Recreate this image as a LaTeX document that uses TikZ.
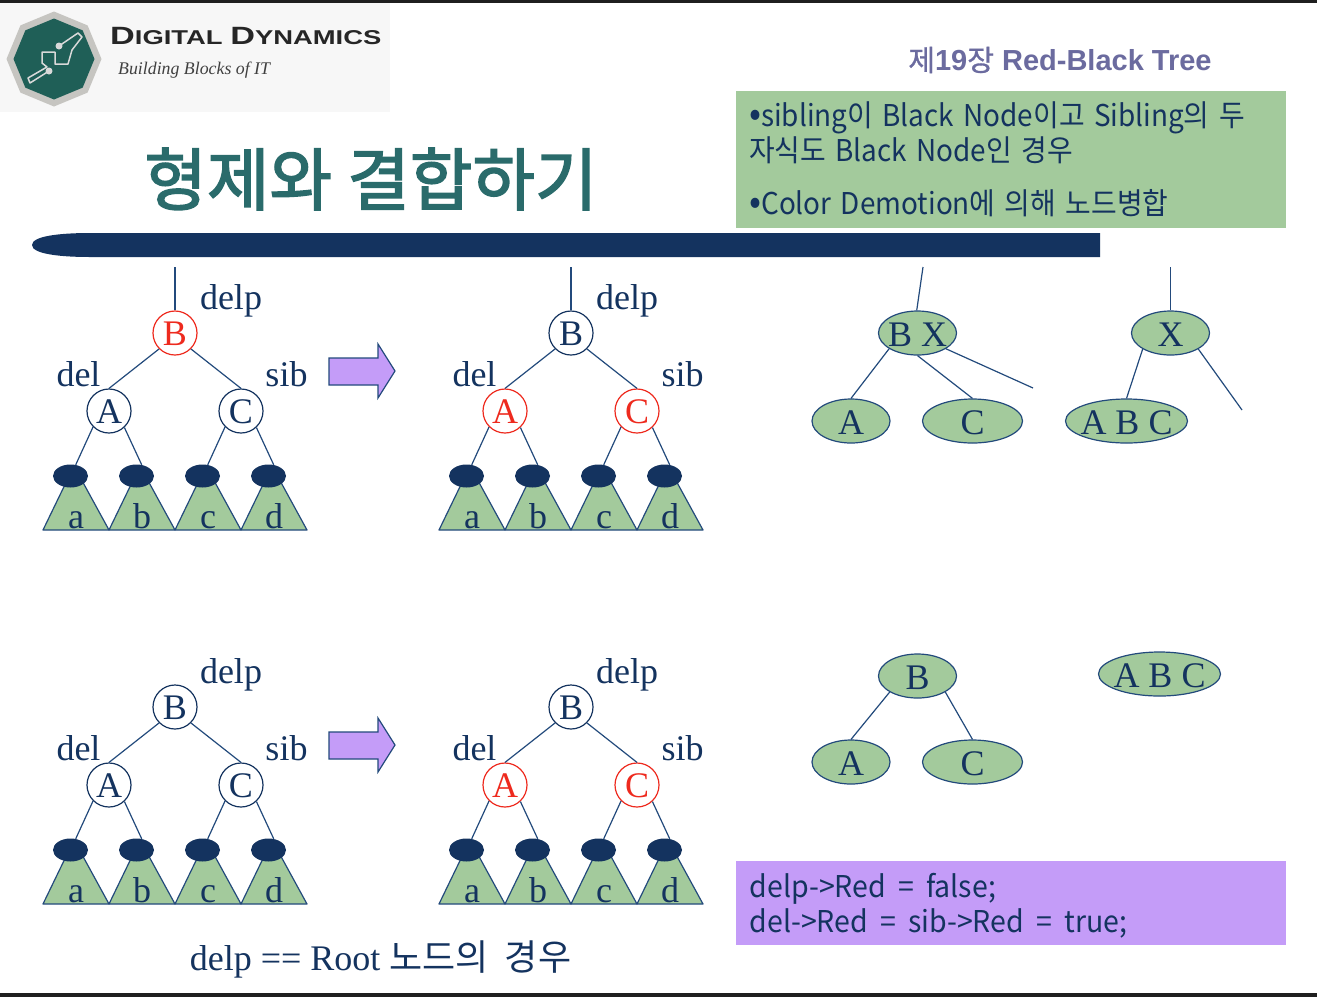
\documentclass[tikz,border=0pt]{standalone}
\usepackage{fontspec}
\usetikzlibrary{calc, shapes.geometric}
\setmainfont{Liberation Serif}
\setsansfont{Liberation Sans}
\newfontfamily\krfont{Noto Sans CJK KR}
\newfontfamily\krheavy[FakeBold=1]{Noto Sans CJK KR}
\newfontfamily\krtitle[FakeBold=2.2]{Noto Sans CJK KR}
\newfontfamily\krbody[FakeStretch=0.93,WordSpace=1.5]{Noto Sans CJK KR}
\newfontfamily\krcode[FakeStretch=0.95,WordSpace=1.9]{Noto Sans CJK KR}
\newfontfamily\logofont[FakeStretch=1.37]{Liberation Sans}
\definecolor{navy}{HTML}{14335F}
\definecolor{edgeblue}{HTML}{234A7C}
\definecolor{leaf}{HTML}{A3CA9C}
\definecolor{lilac}{HTML}{C49CF8}
\definecolor{rednode}{HTML}{EE2A1E}
\definecolor{teal}{HTML}{2A6B6B}
\definecolor{chapter}{HTML}{6B6B9F}
\definecolor{silver}{HTML}{C6C5C1}
\definecolor{badge}{HTML}{1F5F57}
\newcommand{\fs}[1]{\fontsize{#1}{#1}\selectfont}
\newcommand{\blt}{{\fs{38}•}}
\tikzset{
  tnode/.style={circle, draw=#1, text=#1, fill=white, line width=1.2pt, minimum size=44, inner sep=0, text height=25pt, text depth=0pt, font=\fs{36}},
  tlabel/.style={anchor=base, text=navy, font=\fs{36}},
  sublabel/.style={anchor=base, text=navy, font=\fs{36}},
  stub/.style={ellipse, fill=navy, minimum width=35, minimum height=23, inner sep=0},
  wedge/.style={draw=edgeblue, fill=leaf, line width=1.2pt, line join=round},
  link/.style={draw=edgeblue, line width=1.2pt},
  merged/.style={ellipse, draw=edgeblue, fill=leaf, line width=1.2pt, text=navy, inner xsep=-20pt, inner ysep=-10pt, minimum height=44, text height=27pt, text depth=0pt, font=\fs{36}},
  bodytext/.style={anchor=base west, inner sep=0, text=navy, font=\krbody\fs{30}},
  codetext/.style={anchor=base west, inner sep=0, text=navy, font=\krcode\fs{30}},
}
% x offset, y offset, prefix, root colour, child colour
\newcommand{\delptree}[5]{
  \begin{scope}[shift={(#1,#2)}]
    \foreach \n/\i in {a/0,b/1,c/2,d/3}{
      \draw[wedge] ({43+66*\i},530) -- ({74+66*\i},466) -- ({109+66*\i},530) -- cycle;
      \node[sublabel] at ({76+66*\i},528) {\n};
      \node[stub] (#3\n) at ({70.5+66*\i},476) {};
    }
    \node[tnode=#4] (#3B) at (175,333) {B};
    \node[tnode=#5] (#3A) at (109,411) {A};
    \node[tnode=#5] (#3C) at (241,411) {C};
    \draw[link] (#3B.-135) -- (#3A.north);
    \draw[link] (#3B.-45) -- (#3C.north);
    \draw[link] (#3A.-135) -- (#3a.65);
    \draw[link] (#3A.-47) -- (#3b.65);
    \draw[link] (#3C.-135) -- (#3c.65);
    \draw[link] (#3C.-47) -- (#3d.65);
    \node[tlabel] (#3delp) at (231,309) {delp};
    \node[tlabel] (#3del) at (78.5,386) {del};
    \node[tlabel] (#3sib) at (286.5,386) {sib};
  \end{scope}
}
\begin{document}
\begin{tikzpicture}[x=1pt, y=-1pt]
  \useasboundingbox[fill=white] (0,0) rectangle (1317,997);
  \fill[black!88] (0,0) rectangle (1317,3);
  \fill[black!88] (0,993) rectangle (1317,997);
  % logo
  \fill[black!3] (0,3) rectangle (390,112);
  \fill[silver] (54,59) ++(90:47.5) \foreach \a in {135,180,...,405}{ -- ($(54,59)+(\a:47.5)$) } -- cycle;
  \fill[badge] (54,59) ++(90:40.5) \foreach \a in {135,180,...,405}{ -- ($(54,59)+(\a:40.5)$) } -- cycle;
  \draw[black!15, line width=1.5pt, line join=round] (59,46) -- (78,33) -- (82,37) -- (72,50) -- (68,64) -- (55,64) -- (55,52) -- (42,52) -- (42,63) -- (47,67) -- (28,78) -- (30,83) -- (49,71);
  \fill[black!15] (49,71) circle (3.5) (59,46) circle (3.5);
  \node[anchor=base west, inner sep=0, font=\logofont\bfseries\fs{25}, text=black!85] (logoname) at (110,44) {D\fs{20}IGITAL \fs{25}D\fs{20}YNAMICS};
  \node[anchor=base west, inner sep=0, font=\rmfamily\itshape\fs{17.8}, text=black!75] (logotag) at (118,74) {Building Blocks of IT};
  % heading
  \node[text=teal, font=\krtitle\fs{68}] (title) at (371,179) {형제와 결합하기};
  \node[text=chapter, font=\sffamily\bfseries\fs{29}] (chapter) at (1060,60) {{\krheavy\mdseries 제}19{\krheavy\mdseries 장} Red-Black Tree};
  \fill[navy] (1100,233) -- (90,233) .. controls (60,233) and (32,236) .. (32,245) .. controls (32,254) and (60,257) .. (90,257) -- (1100,257) -- cycle;
  \fill[leaf] (736,91) rectangle (1286,228);
  \node[bodytext] (note1) at (749,126) {\blt sibling이 Black Node이고 Sibling의 두};
  \node[bodytext] (note2) at (749,161) {자식도 Black Node인 경우};
  \node[bodytext] (note3) at (749,214) {\blt Color Demotion에 의해 노드병합};
  % 2-3-4 trees
  \delptree{0}{0}{p}{rednode}{navy}
  \delptree{396}{0}{q}{navy}{rednode}
  \delptree{0}{374}{r}{navy}{navy}
  \delptree{396}{374}{s}{navy}{rednode}
  \coordinate (ptop) at (175,267);
  \coordinate (qtop) at (571,267);
  \draw[link] (ptop) -- (pB);
  \draw[link] (qtop) -- (qB);
  \foreach \y in {0,374}{
    \draw[edgeblue, fill=lilac, line width=1.2pt, line join=miter] (329,358+\y) -- (378,358+\y) -- (378,344+\y) -- (395,371+\y) -- (378,398+\y) -- (378,385+\y) -- (329,385+\y) -- cycle;
  }
  % merged nodes, top
  \node[merged, minimum width=78] (bx) at (917.5,333) {B X};
  \node[merged, minimum width=78] (ua) at (851,421) {A};
  \node[merged, minimum width=100] (uc) at (972.5,421) {C};
  \node[merged, minimum width=78] (x) at (1170.5,333) {X};
  \node[merged, minimum width=122] (uabc) at (1126.5,421) {A B C};
  \coordinate (bxtop) at (923,267);
  \coordinate (bxfree) at (1033,388);
  \coordinate (xtop) at (1170.5,267);
  \coordinate (xfree) at (1242,410);
  \draw[link] (bxtop) -- (bx.92);
  \draw[link] (bx.-151) -- (ua.north);
  \draw[link] (bx.south) -- (uc.north);
  \draw[link] (bx.-29) -- (bxfree);
  \draw[link] (xtop) -- (x.north);
  \draw[link] (x.-150) -- (uabc.north);
  \draw[link] (x.-30) -- (xfree);
  % merged nodes, bottom
  \node[merged, minimum width=78] (lb) at (917.5,676) {B};
  \node[merged, minimum width=78] (la) at (851,762) {A};
  \node[merged, minimum width=100] (lc) at (972.5,762) {C};
  \node[merged, minimum width=122] (labc) at (1159.5,674) {A B C};
  \draw[link] (lb.-150) -- (la.north);
  \draw[link] (lb.-30) -- (lc.north);
  % code box
  \fill[lilac] (736,861) rectangle (1286,945);
  \node[codetext] (code1) at (749.5,897) {delp->Red = false;};
  \node[codetext] (code2) at (749.5,932) {del->Red = sib->Red = true;};
  \node[text=navy, anchor=base, font=\fs{36}] (caption) at (380.5,970) {delp == Root {\krfont 노드의\hspace{8pt} 경우}};
\end{tikzpicture}
\end{document}
